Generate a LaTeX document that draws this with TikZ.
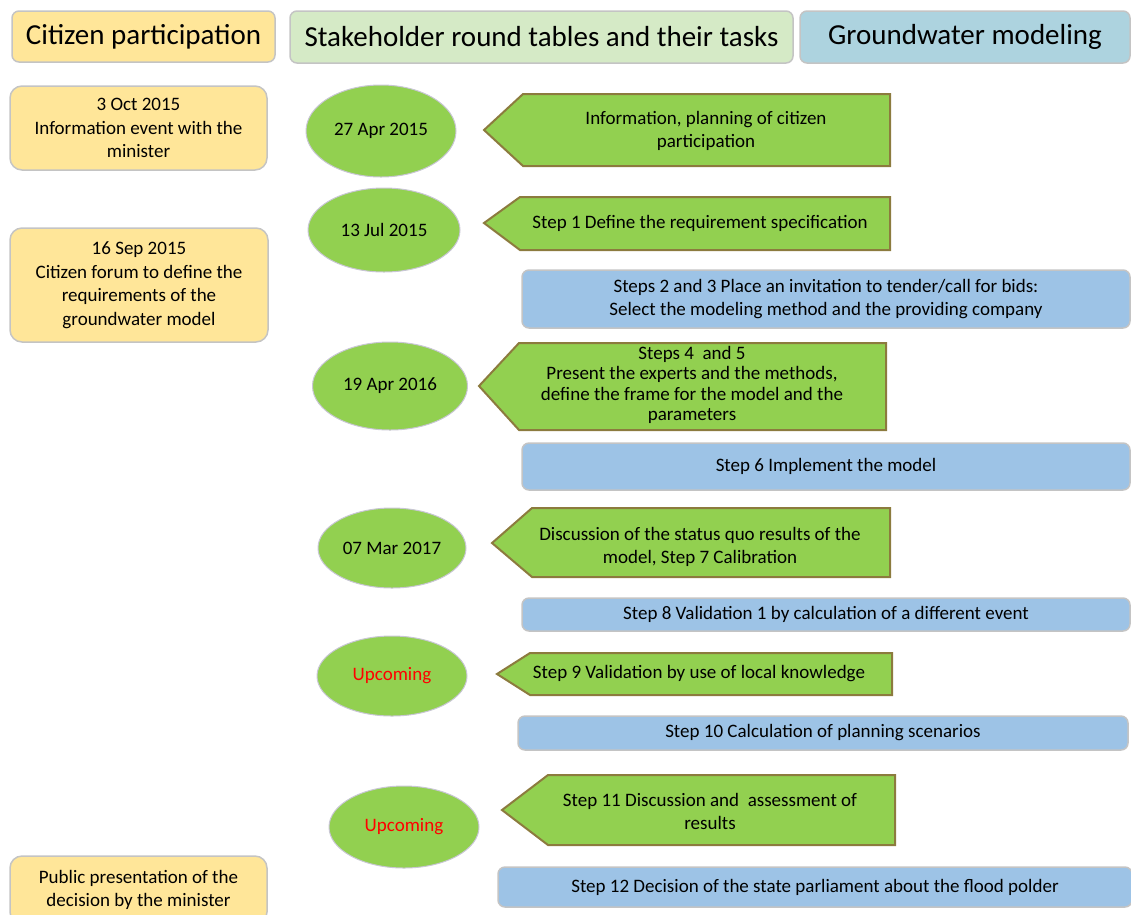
\documentclass[tikz,border=0pt]{standalone}
\usepackage{fontspec}
\setmainfont{Carlito}
\usetikzlibrary{shapes.geometric}

\definecolor{citizenyellow}{HTML}{FFE699}
\definecolor{roundgreen}{HTML}{D5EAC6}
\definecolor{modelblue}{HTML}{ADD3DF}
\definecolor{taskgreen}{HTML}{92D050}
\definecolor{taskborder}{HTML}{8C7B3E}
\definecolor{stepblue}{HTML}{9DC3E6}
\definecolor{boxgray}{HTML}{C4C4C4}
\definecolor{ovalgray}{HTML}{C8C6D4}

\tikzset{
  header/.style={draw=boxgray, line width=1.5pt, rounded corners=7pt, inner sep=0pt,
    font=\fontsize{29}{34}\selectfont},
  citizen/.style={draw=boxgray, fill=citizenyellow, line width=1.5pt, rounded corners=12pt,
    align=center, font=\fontsize{19}{23.5}\selectfont},
  meeting/.style={ellipse, draw=ovalgray, fill=taskgreen, line width=1pt, inner sep=0pt,
    font=\fontsize{19}{23}\selectfont},
  task/.style={draw=taskborder, fill=taskgreen, line width=2pt},
  tasktext/.style={align=center, font=\fontsize{19}{23}\selectfont},
  modelstep/.style={draw=boxgray, fill=stepblue, line width=1.5pt, rounded corners=7pt,
    align=center, font=\fontsize{19}{23}\selectfont},
}

\begin{document}
\begin{tikzpicture}[x=1pt, y=-1pt]
    \useasboundingbox (0,0) rectangle (1131,914);

    % column headers
    \node[header, fill=citizenyellow, minimum width=263, minimum height=51] (hcitizen) at (143.5,36.5) {Citizen participation};
    \node[header, fill=roundgreen, minimum width=503, minimum height=52] (hround) at (541.5,37) {Stakeholder round tables and their tasks};
    \node[header, fill=modelblue, minimum width=330, minimum height=52] (hmodel) at (965,37) {Groundwater modeling};

    % citizen participation
    \node[citizen, minimum width=257, minimum height=84] (cit1) at (138.5,128) {3 Oct 2015\\Information event with the\\minister};
    \node[citizen, minimum width=258, minimum height=114] (cit2) at (139,285) {16 Sep 2015\\Citizen forum to define the\\requirements of the\\groundwater model};
    \node[citizen, minimum width=257, minimum height=68] (cit3) at (138.5,890) {Public presentation of the\\decision by the minister};

    % round table dates
    \node[meeting, minimum width=150, minimum height=92] (date1) at (381,131) {27 Apr 2015};
    \node[meeting, minimum width=152, minimum height=84] (date2) at (384,230) {13 Jul 2015};
    \node[meeting, minimum width=155, minimum height=88] (date3) at (390,386) {19 Apr 2016};
    \node[meeting, minimum width=148, minimum height=80] (date4) at (392,548) {07 Mar 2017};
    \node[meeting, minimum width=150, minimum height=80, text=red] (date5) at (392,676) {Upcoming};
    \node[meeting, minimum width=150, minimum height=82, text=red] (date6) at (404,827) {Upcoming};

    % round table tasks
    \draw[task] (484,130) -- (523,94) -- (890,94) -- (890,166) -- (523,166) -- cycle;
    \node[tasktext] (task1) at (706,131) {Information, planning of citizen\\participation};
    \draw[task] (484,223) -- (520,197) -- (890,197) -- (890,250) -- (520,250) -- cycle;
    \node[tasktext] (task2) at (700,223) {Step 1 Define the requirement specification};
    \draw[task] (479,386) -- (519,343) -- (886,343) -- (886,430) -- (519,430) -- cycle;
    \node[tasktext, font=\fontsize{19}{20.5}\selectfont] (task3) at (692,385) {Steps 4~ and 5\\Present the experts and the methods,\\define the frame for the model and the\\parameters};
    \draw[task] (492,543) -- (532,508) -- (890,508) -- (890,577) -- (532,577) -- cycle;
    \node[tasktext] (task4) at (700,547) {Discussion of the status quo results of the\\model, Step 7 Calibration};
    \draw[task] (497,674) -- (530,653) -- (892,653) -- (892,695) -- (530,695) -- cycle;
    \node[tasktext] (task5) at (699,674) {Step 9 Validation by use of local knowledge};
    \draw[task] (502,810) -- (548,775) -- (895,775) -- (895,845) -- (548,845) -- cycle;
    \node[tasktext] (task6) at (710,811) {Step 11 Discussion and~ assessment of\\results};

    % groundwater modeling steps
    \node[modelstep, minimum width=608, minimum height=58] (step1) at (826,299) {Steps 2 and 3 Place an invitation to tender/call for bids:\\Select the modeling method and the providing company};
    \node[modelstep, minimum width=608, minimum height=47] (step2) at (826,466.5) {Step 6 Implement the model};
    \node[modelstep, minimum width=608, minimum height=33] (step3) at (826,614.5) {Step 8 Validation 1 by calculation of a different event};
    \node[modelstep, minimum width=610, minimum height=34] (step4) at (823,733) {Step 10 Calculation of planning scenarios};
    \node[modelstep, minimum width=634, minimum height=40] (step5) at (815,887) {Step 12 Decision of the state parliament about the flood polder};
\end{tikzpicture}
\end{document}
